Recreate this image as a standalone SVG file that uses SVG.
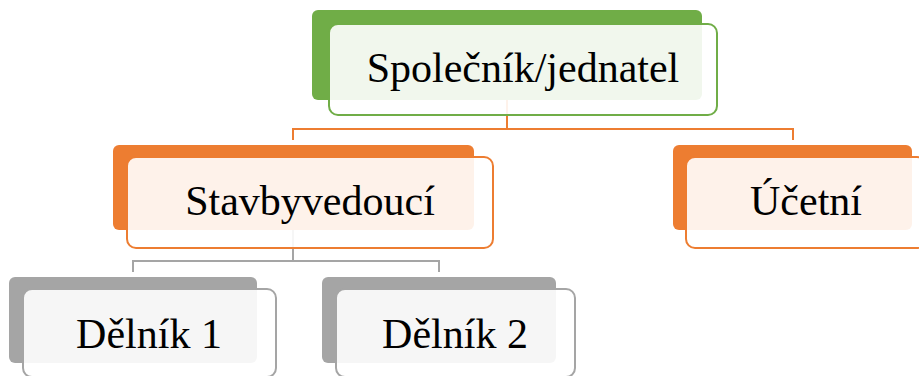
<svg xmlns="http://www.w3.org/2000/svg" width="919" height="376" viewBox="0 0 919 376">
  <style>
    .back { stroke: none; }
    .front { fill: #ffffff; fill-opacity: 0.9; stroke-width: 2; }
    .label { font-family: "Liberation Serif", "Times New Roman", serif; font-size: 42px; fill: #000000; text-anchor: middle; }
    .green .back { fill: #70ad47; }
    .green .front { stroke: #70ad47; }
    .orange .back { fill: #ed7d31; }
    .orange .front { stroke: #ed7d31; }
    .grey .back { fill: #a5a5a5; }
    .grey .front { stroke: #a5a5a5; }
    .conn { fill: none; stroke-width: 2; }
  </style>
  <rect width="919" height="376" fill="#ffffff"/>

  <!-- connectors -->
  <g id="connectors">
    <path class="conn" stroke="#ed7d31" d="M507 100 V129 M293 140 V129 H793 V140"/>
    <path class="conn" stroke="#a5a5a5" d="M293 230 V261 M133 272 V261 H439 V272"/>
  </g>

  <!-- nodes -->
  <g id="spolecnik" class="green">
    <rect class="back" x="312" y="10" width="390" height="90" rx="6"/>
    <rect class="front" x="329" y="24" width="388" height="91" rx="9"/>
    <text class="label" x="523" y="82">Společník/jednatel</text>
  </g>

  <g id="stavbyvedouci" class="orange">
    <rect class="back" x="113" y="145" width="361" height="85" rx="6"/>
    <rect class="front" x="127" y="157" width="366" height="91" rx="9"/>
    <text class="label" x="310" y="215">Stavbyvedoucí</text>
  </g>

  <g id="ucetni" class="orange">
    <rect class="back" x="673" y="145" width="239" height="85" rx="6"/>
    <rect class="front" x="686" y="157" width="240" height="91" rx="9"/>
    <text class="label" x="806" y="215">Účetní</text>
  </g>

  <g id="delnik1" class="grey">
    <rect class="back" x="9" y="277" width="248" height="86" rx="6"/>
    <rect class="front" x="23" y="289" width="253" height="88" rx="9"/>
    <text class="label" x="149" y="348">Dělník 1</text>
  </g>

  <g id="delnik2" class="grey">
    <rect class="back" x="322" y="277" width="234" height="86" rx="6"/>
    <rect class="front" x="336" y="289" width="239" height="88" rx="9"/>
    <text class="label" x="455" y="348">Dělník 2</text>
  </g>
</svg>
